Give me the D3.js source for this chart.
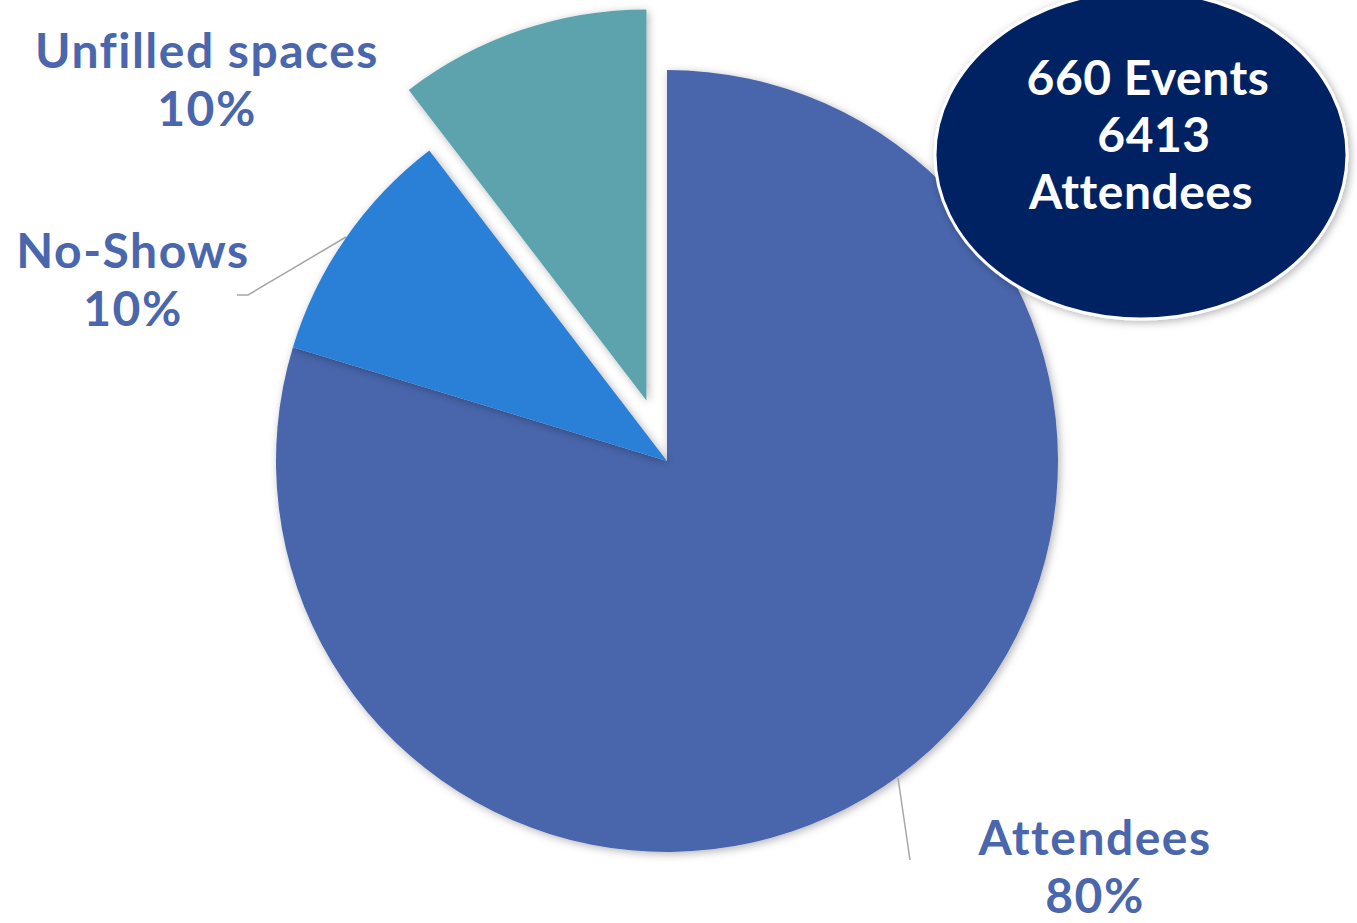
<!DOCTYPE html>
<html>
<head>
<meta charset="utf-8">
<script src="https://cdn.jsdelivr.net/npm/d3@7"></script>
<style>
  body { margin: 0; background: #fff; }
  text { font-family: "Century Gothic", "URW Gothic", "Lato", "DejaVu Sans", sans-serif; font-weight: bold; }
</style>
</head>
<body>
<svg width="1357" height="923"></svg>
<script>
var svg = d3.select("svg")

// data (slice angles), labels rounded like the original
var categories = ["Attendees", "No-Shows", "Unfilled spaces"]
var shares = [79.7, 9.9, 10.4]
var colors = ["#4a66ac", "#2a7fd6", "#5ba3ae"]
var summary_lines = ["660 Events", "6413", "Attendees"]

var cx = 667, cy = 461, radius = 391
var explode = [0, 0, 64]

// soft shadow like the original
var defs = svg.append("defs")
var f = defs.append("filter").attr("id", "shadow")
    .attr("x", "-20%").attr("y", "-20%").attr("width", "140%").attr("height", "140%")
f.append("feDropShadow").attr("dx", 2).attr("dy", 2).attr("stdDeviation", 4)
    .attr("flood-color", "#000").attr("flood-opacity", 0.3)

var pie = d3.pie().sort(null).value(function (d) { return d })
var arcs = pie(shares)
var arc = d3.arc().innerRadius(0).outerRadius(radius)

var g = svg.append("g").attr("transform", "translate(" + cx + "," + cy + ")")

g.selectAll("path")
    .data(arcs)
    .enter().append("path")
    .attr("d", arc)
    .attr("fill", function (d, i) { return colors[i] })
    .attr("filter", "url(#shadow)")
    .attr("transform", function (d, i) {
        var a = (d.startAngle + d.endAngle) / 2
        return "translate(" + Math.sin(a) * explode[i] + "," + (-Math.cos(a) * explode[i]) + ")"
    })

// leader lines
var leaders = [
    [[898, 778], [910, 860]],
    [[346, 237], [248, 295], [237, 295]]
]
svg.selectAll(".leader")
    .data(leaders)
    .enter().append("path")
    .attr("class", "leader")
    .attr("d", d3.line())
    .attr("fill", "none")
    .attr("stroke", "#a6a6a6")
    .attr("stroke-width", 1.5)

// data labels
var label_pos = [[1095, 855], [133, 268], [207, 68]]
var labels = svg.selectAll(".lbl")
    .data(categories)
    .enter().append("text")
    .attr("class", "lbl")
    .attr("text-anchor", "middle")
    .attr("fill", "#4a66ac")
    .attr("font-size", 48)
    .attr("letter-spacing", 1.5)
    .attr("x", function (d, i) { return label_pos[i][0] })
    .attr("y", function (d, i) { return label_pos[i][1] })
labels.append("tspan").text(function (d) { return d })
labels.append("tspan")
    .attr("x", function (d, i) { return label_pos[i][0] })
    .attr("dy", 58)
    .text(function (d, i) { return Math.round(shares[i] / 10) * 10 + "%" })

// summary bubble
var line_x = [1148, 1154, 1141]
var bubble = svg.append("g")
bubble.append("ellipse")
    .attr("cx", 1141).attr("cy", 155).attr("rx", 206).attr("ry", 164)
    .attr("fill", "#012163")
    .attr("stroke", "#fff").attr("stroke-width", 3)
    .attr("filter", "url(#shadow)")
bubble.selectAll("text")
    .data(summary_lines)
    .enter().append("text")
    .attr("text-anchor", "middle")
    .attr("fill", "#fff")
    .attr("font-size", 48)
    .attr("letter-spacing", 0.5)
    .attr("x", function (d, i) { return line_x[i] })
    .attr("y", function (d, i) { return 95 + i * 57 })
    .text(function (d) { return d })
</script>
</body>
</html>
